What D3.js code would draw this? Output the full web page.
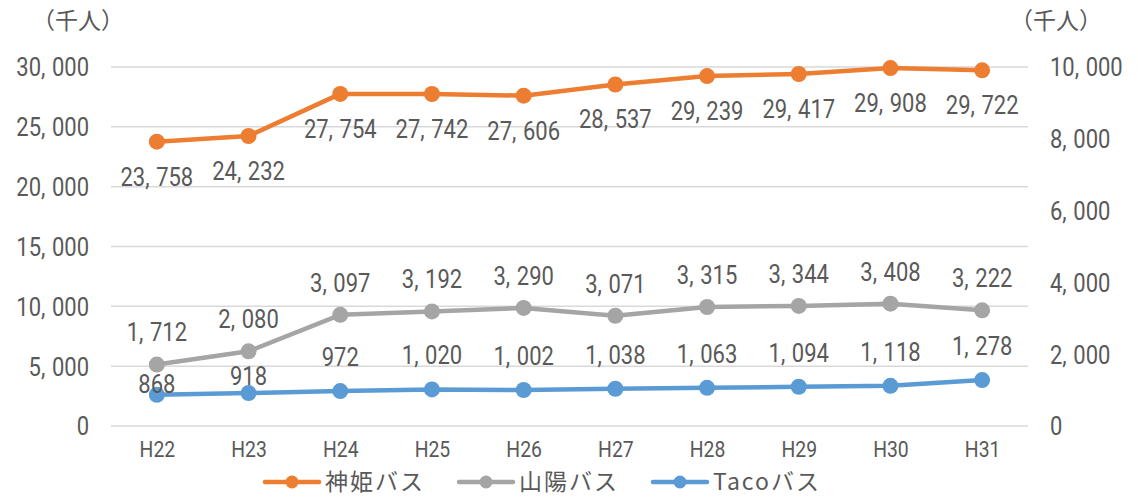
<!DOCTYPE html>
<html><head><meta charset="utf-8">
<script src="https://cdn.jsdelivr.net/npm/d3@7"></script>
<style>
html,body{margin:0;padding:0;background:#fff;}
svg{display:block;}
</style></head>
<body>
<svg id="chart" width="1138" height="498"></svg>
<script>
const categories = ["H22","H23","H24","H25","H26","H27","H28","H29","H30","H31"];
const shinki = [23758,24232,27754,27742,27606,28537,29239,29417,29908,29722];
const sanyo  = [1712,2080,3097,3192,3290,3071,3315,3344,3408,3222];
const taco   = [868,918,972,1020,1002,1038,1063,1094,1118,1278];
const leftTicks  = [0,5000,10000,15000,20000,25000,30000];
const rightTicks = [0,2000,4000,6000,8000,10000];
const seriesNames = ["神姫バス","山陽バス","Tacoバス"];
const unitLabel = "（千人）";

const W = 1138, H = 498;
const plot = {left:111, right:1028, top:67, bottom:426};
const textColor = "#595959";
const numFont = "Roboto, 'Noto Sans CJK JP', sans-serif";
const cjkFont = "'Noto Sans CJK JP', sans-serif";
const SX = 0.88;

const svg = d3.select("#chart");
const x = d3.scalePoint().domain(categories).range([plot.left, plot.right]).padding(0.5);
const yL = d3.scaleLinear().domain([0,30000]).range([plot.bottom, plot.top]);
const yR = d3.scaleLinear().domain([0,10000]).range([plot.bottom, plot.top]);
const fmt = d3.format(",");

function numText(sel, value, size, anchor){
  const s = fmt(value).split(",");
  sel.attr("font-family", numFont).attr("font-size", size).attr("fill", textColor)
     .attr("text-anchor", anchor).text(null);
  s.forEach((part,i)=>{
    if(i>0){
      sel.append("tspan").text(",");
      sel.append("tspan").attr("dx", size*0.3).text(part);
    } else sel.append("tspan").text(part);
  });
}

// gridlines
svg.append("g").selectAll("line").data(leftTicks).join("line")
  .attr("x1", plot.left).attr("x2", plot.right)
  .attr("y1", d=>yL(d)).attr("y2", d=>yL(d))
  .attr("stroke", "#d9d9d9").attr("stroke-width", 1.5);

// left axis
const gl = svg.append("g").attr("transform", `translate(${plot.left},0)`)
  .call(d3.axisLeft(yL).tickValues(leftTicks).tickSize(0));
gl.select(".domain").remove();
gl.selectAll(".tick text").each(function(d){
  const t = d3.select(this);
  t.attr("x",0).attr("dy",null).attr("y", 0.355*25)
   .attr("transform", `translate(-22,0) scale(${SX},1)`);
  numText(t, d, 25, "end");
});

// right axis
const gr = svg.append("g").attr("transform", `translate(${plot.right},0)`)
  .call(d3.axisRight(yR).tickValues(rightTicks).tickSize(0));
gr.select(".domain").remove();
gr.selectAll(".tick text").each(function(d){
  const t = d3.select(this);
  t.attr("x",0).attr("dy",null).attr("y", 0.355*25)
   .attr("transform", `translate(22,0) scale(${SX},1)`);
  numText(t, d, 25, "start");
});

// category axis
const gb = svg.append("g").attr("transform", `translate(0,449)`)
  .call(d3.axisBottom(x).tickSize(0));
gb.select(".domain").remove();
gb.selectAll(".tick text").attr("y", 0.355*22).attr("dy", null)
  .attr("transform", `scale(${SX},1)`)
  .attr("font-family", numFont).attr("font-size", 22).attr("fill", textColor)
  .attr("text-anchor","middle");

// units
[[78, 21],[1056, 21]].forEach(([cx,cy])=>{
  svg.append("text").attr("x",cx).attr("y",cy).attr("dy","0.36em")
    .attr("text-anchor","middle").attr("font-family",cjkFont).attr("font-size",23)
    .attr("fill",textColor).text(unitLabel);
});

const series = [
  {name:seriesNames[0], values:shinki, y:yL, color:"#ED7D31"},
  {name:seriesNames[1], values:sanyo,  y:yR, color:"#A5A5A5"},
  {name:seriesNames[2], values:taco,   y:yR, color:"#5B9BD5"}
];

const line = (s)=> d3.line().x((d,i)=>x(categories[i])).y(d=>s.y(d));
series.forEach(s=>{
  svg.append("path").datum(s.values).attr("d", line(s))
    .attr("fill","none").attr("stroke",s.color).attr("stroke-width",4.5)
    .attr("stroke-linejoin","round").attr("stroke-linecap","round");
  svg.append("g").selectAll("circle").data(s.values).join("circle")
    .attr("cx",(d,i)=>x(categories[i])).attr("cy",d=>s.y(d)).attr("r",8)
    .attr("fill",s.color);
});

// data labels
function label(cx, cy, v){
  const t = svg.append("text")
    .attr("transform", `translate(${cx},${cy}) scale(${SX},1)`)
    .attr("y", 0.355*25);
  numText(t, v, 25, "middle");
}
shinki.forEach((v,i)=> label(x(categories[i]), yL(v)+35, v));
sanyo.forEach((v,i)=> label(x(categories[i]), yR(v)-32, v));
taco.forEach((v,i)=>{
  const yb = yR(v), yg = yR(sanyo[i]);
  let ly = yb - 34;
  if (Math.abs(ly - yg) < 16) ly = (yg + yb)/2 + 4;
  label(x(categories[i]), ly, v);
});

// legend
let lx = 265;
const ly = 482;
series.forEach(s=>{
  const g = svg.append("g");
  g.append("line").attr("x1",lx).attr("x2",lx+54).attr("y1",ly).attr("y2",ly)
    .attr("stroke",s.color).attr("stroke-width",4.5).attr("stroke-linecap","round");
  g.append("circle").attr("cx",lx+27).attr("cy",ly).attr("r",6.5).attr("fill",s.color);
  const t = g.append("text").attr("x",lx+60).attr("y",ly).attr("dy","0.35em")
    .attr("font-family",cjkFont).attr("font-size",23).attr("letter-spacing",2)
    .attr("fill",textColor).text(s.name);
  lx += 60 + t.node().getComputedTextLength() + 34;
});
</script>
</body></html>
